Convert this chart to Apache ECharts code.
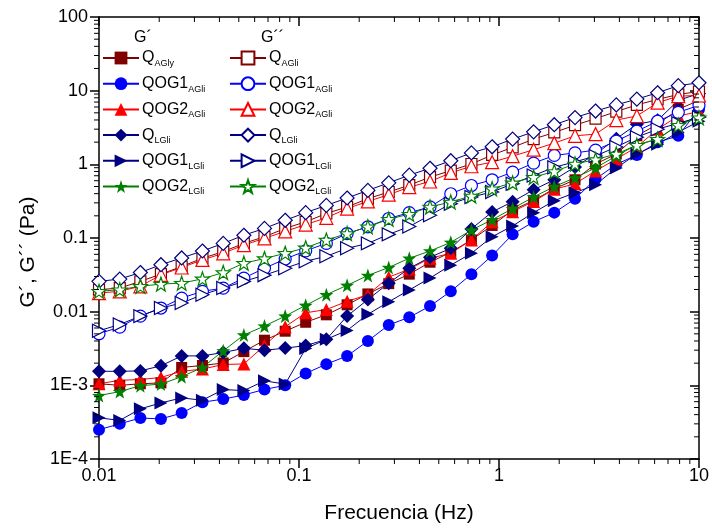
<!DOCTYPE html>
<html><head><meta charset="utf-8">
<script src="https://cdn.jsdelivr.net/npm/echarts@6/dist/echarts.min.js"></script>
<style>html,body{margin:0;padding:0;background:#fff}#c{width:712px;height:529px}</style>
</head><body><div id="c"></div>
<script>
// Frequencies (Hz)
const freq = [0.01, 0.0127, 0.0161, 0.0204, 0.0259, 0.0329, 0.0418, 0.053, 0.0672, 0.0853, 0.108, 0.137, 0.174, 0.221, 0.281, 0.356, 0.452, 0.574, 0.728, 0.924, 1.17, 1.49, 1.89, 2.4, 3.04, 3.86, 4.89, 6.21, 7.88, 10];

// G' (storage modulus, Pa)
const qAGly_G1 = [1.05e-3, 1.0e-3, 1.05e-3, 1.08e-3, 1.75e-3, 1.86e-3, 2.01e-3, 2.87e-3, 4.1e-3, 5.43e-3, 7.18e-3, 9.06e-3, 0.0124, 0.0174, 0.024, 0.0323, 0.0469, 0.064, 0.0942, 0.148, 0.238, 0.324, 0.466, 0.617, 1.01, 1.38, 2.44, 3.5, 5.58, 7.38];
const qog1AGli_G1 = [2.5e-4, 3.0e-4, 3.6e-4, 3.5e-4, 4.2e-4, 5.9e-4, 6.5e-4, 7.4e-4, 8.8e-4, 1.0e-3, 1.45e-3, 1.94e-3, 2.5e-3, 4.0e-3, 6.6e-3, 8.4e-3, 0.0119, 0.0189, 0.0323, 0.0577, 0.112, 0.166, 0.221, 0.34, 0.63, 1.0, 1.34, 2.0, 2.44, 5.6];
const qog2AGli_G1 = [1.05e-3, 1.17e-3, 1.2e-3, 1.28e-3, 1.55e-3, 1.66e-3, 1.92e-3, 1.95e-3, 3.46e-3, 6.24e-3, 9.64e-3, 0.0107, 0.0138, 0.017, 0.0294, 0.0378, 0.0531, 0.062, 0.0938, 0.166, 0.228, 0.314, 0.459, 0.544, 0.815, 1.18, 1.72, 3.0, 4.53, 5.2];
const qLGli_G1 = [1.55e-3, 1.55e-3, 1.57e-3, 1.84e-3, 2.51e-3, 2.51e-3, 2.79e-3, 3.18e-3, 2.99e-3, 3.2e-3, 3.46e-3, 4.21e-3, 8.7e-3, 0.0146, 0.0244, 0.0389, 0.0548, 0.0724, 0.133, 0.226, 0.311, 0.452, 0.617, 0.923, 1.38, 2.23, 3.5, 3.96, 7.38, 9.16];
const qog1LGli_G1 = [3.62e-4, 3.34e-4, 4.8e-4, 5.77e-4, 6.75e-4, 6.28e-4, 8.75e-4, 8.5e-4, 1.15e-3, 1.04e-3, 3.15e-3, 4.21e-3, 5.56e-3, 9.2e-3, 0.0136, 0.0197, 0.0286, 0.0428, 0.062, 0.104, 0.146, 0.221, 0.321, 0.412, 0.527, 0.894, 1.38, 1.88, 2.73, 3.85];
const qog2LGli_G1 = [7.26e-4, 8.22e-4, 9.9e-4, 1.04e-3, 1.31e-3, 1.75e-3, 2.94e-3, 4.82e-3, 6.38e-3, 8.7e-3, 0.0122, 0.017, 0.0228, 0.031, 0.0398, 0.0531, 0.0666, 0.0873, 0.128, 0.177, 0.251, 0.36, 0.499, 0.656, 0.894, 1.3, 1.85, 2.2, 3.45, 4.49];

// G'' (loss modulus, Pa)
const qAGli_G2 = [0.0199, 0.0209, 0.0258, 0.0323, 0.041, 0.0531, 0.0653, 0.0845, 0.104, 0.135, 0.166, 0.215, 0.264, 0.342, 0.421, 0.522, 0.67, 0.822, 1.01, 1.34, 1.7, 2.2, 2.71, 3.4, 4.18, 5.2, 6.41, 7.6, 8.89, 9.75];
const qog1AGli_G2 = [5.02e-3, 6.18e-3, 8.7e-3, 0.0112, 0.0153, 0.0189, 0.0209, 0.0286, 0.0389, 0.0518, 0.067, 0.0845, 0.115, 0.142, 0.184, 0.221, 0.264, 0.399, 0.516, 0.617, 0.783, 1.04, 1.32, 1.43, 1.56, 2.07, 2.82, 3.85, 5.08, 6.32];
const qog2AGli_G2 = [0.0179, 0.0189, 0.0221, 0.0316, 0.0398, 0.0504, 0.062, 0.0802, 0.0989, 0.123, 0.152, 0.188, 0.251, 0.314, 0.387, 0.491, 0.585, 0.766, 0.942, 1.07, 1.29, 1.58, 1.94, 2.44, 2.57, 3.99, 4.53, 6.87, 8.43, 8.6];
const qLGli_G2 = [0.0258, 0.0277, 0.034, 0.0434, 0.0536, 0.0666, 0.0845, 0.109, 0.135, 0.174, 0.221, 0.277, 0.349, 0.443, 0.561, 0.713, 0.885, 1.12, 1.43, 1.73, 2.2, 2.76, 3.45, 4.31, 5.29, 6.41, 7.68, 9.37, 11.7, 12.8];
const qog1LGli_G2 = [5.51e-3, 6.7e-3, 8.7e-3, 0.0112, 0.0131, 0.017, 0.0209, 0.0258, 0.0313, 0.0389, 0.0484, 0.0565, 0.0724, 0.0845, 0.112, 0.143, 0.204, 0.292, 0.36, 0.421, 0.544, 0.705, 0.914, 1.08, 1.3, 1.72, 2.34, 3.0, 3.61, 4.35];
const qog2LGli_G2 = [0.0189, 0.0199, 0.0221, 0.0237, 0.0244, 0.0279, 0.034, 0.0455, 0.0526, 0.062, 0.0736, 0.0938, 0.115, 0.142, 0.18, 0.211, 0.264, 0.308, 0.372, 0.466, 0.561, 0.67, 0.802, 1.01, 1.16, 1.38, 1.82, 2.2, 3.4, 4.3];

// Legend labels: [main, subscript]
const labelsG1 = [['Q', 'AGly'], ['QOG1', 'AGli'], ['QOG2', 'AGli'], ['Q', 'LGli'], ['QOG1', 'LGli'], ['QOG2', 'LGli']];
const labelsG2 = [['Q', 'AGli'], ['QOG1', 'AGli'], ['QOG2', 'AGli'], ['Q', 'LGli'], ['QOG1', 'LGli'], ['QOG2', 'LGli']];
const xTickLabels = ['0.01', '0.1', '1', '10'];
const yTickLabels = ['1E-4', '1E-3', '0.01', '0.1', '1', '10', '100'];
// minor tick positions (axis decoration): mantissas per decade
const minorMantissa = [2, 3, 4, 5, 6, 7, 8, 9];
const xDecades = [0.01, 0.1, 1];
const yDecades = [1e-4, 1e-3, 0.01, 0.1, 1, 10];

const FONT = "'Liberation Sans', Arial, sans-serif";
const STAR = 'path://M0,-10L2.35,-3.24L9.51,-3.09L3.8,1.24L5.88,8.09L0,4L-5.88,8.09L-3.8,1.24L-9.51,-3.09L-2.35,-3.24Z';

const styles = [
  {color: '#800000', symbol: 'rect', size: 11, rot: 0},
  {color: '#0000ff', symbol: 'circle', size: 12, rot: 0},
  {color: '#ff0000', symbol: 'triangle', size: 13, rot: 0},
  {color: '#000080', symbol: 'diamond', size: 14, rot: 0},
  {color: '#000080', symbol: 'triangle', size: 13, rot: -90},
  {color: '#008000', symbol: STAR, size: 14, rot: 0}
];
const g1Data = [qAGly_G1, qog1AGli_G1, qog2AGli_G1, qLGli_G1, qog1LGli_G1, qog2LGli_G1];
const g2Data = [qAGli_G2, qog1AGli_G2, qog2AGli_G2, qLGli_G2, qog1LGli_G2, qog2LGli_G2];

const labelMap = {};
const series = [];
const namesG1 = [], namesG2 = [];
function mk(name, vals, st, open) {
  return {
    name, type: 'line', xAxisIndex: 0, yAxisIndex: 0,
    data: freq.map((f, i) => [f, vals[i]]),
    symbol: st.symbol, symbolSize: st.size, symbolRotate: st.rot, showSymbol: true,
    lineStyle: {color: st.color, width: 1},
    itemStyle: open ? {color: '#ffffff', borderColor: st.color, borderWidth: 1.2}
                    : {color: st.color, borderColor: st.color, borderWidth: 0},
    emphasis: {disabled: true}, animation: false, z: open ? 3 : 2
  };
}
g2Data.forEach((d, i) => { const n = 'G2_' + i; labelMap[n] = labelsG2[i]; namesG2.push(n); series.push(mk(n, d, styles[i], true)); });
g1Data.forEach((d, i) => { const n = 'G1_' + i; labelMap[n] = labelsG1[i]; namesG1.push(n); series.push(mk(n, d, styles[i], false)); });

// minor ticks on the frame, drawn through the axes' scales
const minorData = [];
xDecades.forEach(d => minorMantissa.forEach(m => minorData.push([d * m, 1e-4, 0])));
yDecades.forEach(d => minorMantissa.forEach(m => minorData.push([0.01, d * m, 1])));
series.push({
  type: 'custom', name: 'minorTicks', silent: true, clip: false, animation: false, z: 5,
  data: minorData,
  renderItem: function (params, api) {
    const kind = api.value(2);
    const st = {stroke: '#000', lineWidth: 1};
    if (kind === 0) {
      const b = api.coord([api.value(0), 1e-4]);
      const t = api.coord([api.value(0), 100]);
      return {type: 'group', children: [
        {type: 'line', shape: {x1: b[0], y1: b[1], x2: b[0], y2: b[1] + 5}, style: st},
        {type: 'line', shape: {x1: t[0], y1: t[1], x2: t[0], y2: t[1] + 5}, style: st}
      ]};
    }
    const l = api.coord([0.01, api.value(1)]);
    const r = api.coord([10, api.value(1)]);
    return {type: 'group', children: [
      {type: 'line', shape: {x1: l[0] - 5, y1: l[1], x2: l[0], y2: l[1]}, style: st},
      {type: 'line', shape: {x1: r[0] - 5, y1: r[1], x2: r[0], y2: r[1]}, style: st}
    ]};
  }
});

function fmtY(v) { return yTickLabels[Math.round(Math.log10(v)) + 4]; }
function fmtX(v) { return xTickLabels[Math.round(Math.log10(v)) + 2]; }
const rich = {
  m: {fontSize: 16, fontFamily: FONT, color: '#000', lineHeight: 20},
  s: {fontSize: 9, fontFamily: FONT, color: '#000', padding: [11, 0, 0, 0]}
};
function legend(left, data) {
  return {
    orient: 'vertical', left, top: 50, data, itemWidth: 36, itemHeight: 16, itemGap: 7.7,
    selectedMode: false, padding: 0,
    formatter: n => '{m|' + labelMap[n][0] + '}{s|' + labelMap[n][1] + '}',
    textStyle: {rich, padding: [0, 0, 0, -2]}
  };
}
const axisLineStyle = {color: '#000', width: 1.5};
const chart = echarts.init(document.getElementById('c'));
chart.setOption({
  backgroundColor: '#fff',
  animation: false,
  grid: {left: 99, right: 11, top: 17, bottom: 66},
  legend: [legend(102, namesG1), legend(229, namesG2)],
  graphic: [
    {type: 'text', left: 134, top: 30, style: {text: 'G\u00b4', font: '16px ' + FONT, fill: '#000'}},
    {type: 'text', left: 261, top: 30, style: {text: 'G\u00b4\u00b4', font: '16px ' + FONT, fill: '#000'}}
  ],
  xAxis: [
    {type: 'log', logBase: 10, min: 0.01, max: 10, position: 'bottom',
     axisLine: {onZero: false, lineStyle: axisLineStyle},
     axisTick: {inside: false, length: 9, lineStyle: axisLineStyle},
     axisLabel: {fontSize: 18, color: '#000', fontFamily: FONT, margin: 8, formatter: fmtX},
     splitLine: {show: false},
     name: 'Frecuencia (Hz)', nameLocation: 'middle', nameGap: 44,
     nameTextStyle: {fontSize: 21, color: '#000', fontFamily: FONT}},
    {type: 'log', logBase: 10, min: 0.01, max: 10, position: 'top',
     axisLine: {onZero: false, lineStyle: axisLineStyle},
     axisTick: {inside: true, length: 9, lineStyle: axisLineStyle},
     axisLabel: {show: false}, splitLine: {show: false}}
  ],
  yAxis: [
    {type: 'log', logBase: 10, min: 1e-4, max: 100, position: 'left',
     axisLine: {onZero: false, lineStyle: axisLineStyle},
     axisTick: {inside: false, length: 9, lineStyle: axisLineStyle},
     axisLabel: {fontSize: 18, color: '#000', fontFamily: FONT, margin: 11, formatter: fmtY},
     splitLine: {show: false},
     name: 'G\u00b4, G\u00b4\u00b4 (Pa)', nameLocation: 'middle', nameGap: 58,
     nameTextStyle: {fontSize: 21, color: '#000', fontFamily: FONT, padding: [0, 28, 0, 0]}},
    {type: 'log', logBase: 10, min: 1e-4, max: 100, position: 'right',
     axisLine: {onZero: false, lineStyle: axisLineStyle},
     axisTick: {inside: true, length: 9, lineStyle: axisLineStyle},
     axisLabel: {show: false}, splitLine: {show: false}}
  ],
  series
});
</script></body></html>
